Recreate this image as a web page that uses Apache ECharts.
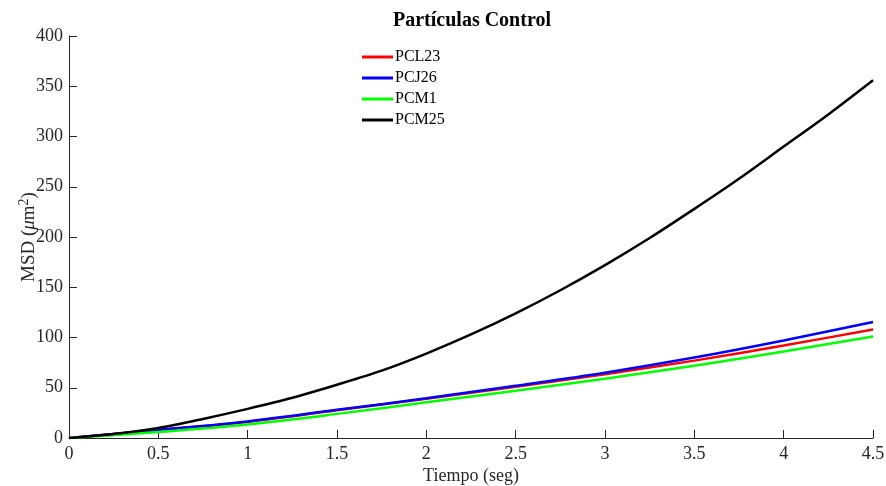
<!DOCTYPE html>
<html>
<head>
<meta charset="utf-8">
<script src="https://cdn.jsdelivr.net/npm/echarts@6/dist/echarts.min.js"></script>
<style>
  html, body { margin: 0; padding: 0; background: #fff; }
  #chart { width: 886px; height: 486px; }
</style>
</head>
<body>
<div id="chart"></div>
<script>
// tiempo (seg)
var tiempo = [0, 0.5, 1, 1.5, 2, 2.5, 3, 3.5, 4, 4.5];
var tiempoFino = [0, 0.25, 0.5, 0.75, 1, 1.25, 1.5, 1.75, 2, 2.25, 2.5, 2.75, 3, 3.25, 3.5, 3.75, 4, 4.25, 4.5];

// MSD (um^2)
var pcl23 = [0, 8, 16, 27.5, 39, 51, 63.5, 77, 92, 108];
var pcj26 = [0, 8, 16.5, 28, 39.5, 52, 65, 80, 97, 115.5];
var pcm1 = [0, 6, 13.5, 24, 35.5, 47, 59, 72, 86, 101];
var pcm25 = [0, 4, 10, 19, 29, 40, 53, 67, 84, 103, 124, 147, 172, 199, 228, 258, 290, 322, 356];

var xTicks = [0, 4.5, 0.5];
var yTicks = [0, 400, 50];

function pares(xs, ys) {
    return xs.map(function (x, i) { return [x, ys[i]]; });
}

var serif = '"Liberation Serif", "Times New Roman", serif';
var gris = '#262626';

function linea(nombre, color, xs, ys) {
    return {
        name: nombre,
        type: 'line',
        data: pares(xs, ys),
        smooth: 0.3,
        symbol: 'none',
        lineStyle: { color: color, width: 2.5 },
        itemStyle: { color: color },
        animation: false
    };
}

var chart = echarts.init(document.getElementById('chart'));
chart.setOption({
    backgroundColor: '#fff',
    title: {
        text: 'Partículas Control',
        left: 467,
        textAlign: 'center',
        top: 6,
        textStyle: { fontFamily: serif, fontSize: 20, fontWeight: 'bold', color: '#000' }
    },
    legend: {
        orient: 'vertical',
        left: 362,
        top: 49,
        padding: 0,
        itemWidth: 31,
        itemHeight: 3,
        itemGap: 5,
        icon: 'rect',
        textStyle: { fontFamily: serif, fontSize: 16, color: '#000', padding: [0, 0, 0, -3] },
        data: ['PCL23', 'PCJ26', 'PCM1', 'PCM25']
    },
    grid: { left: 69, right: 13, top: 36, bottom: 48, outerBoundsMode: 'none' },
    xAxis: {
        type: 'value',
        min: xTicks[0],
        max: xTicks[1],
        interval: xTicks[2],
        name: 'Tiempo (seg)',
        nameLocation: 'middle',
        nameGap: 29,
        nameMoveOverlap: false,
        nameTextStyle: { fontFamily: serif, fontSize: 18, color: gris },
        axisLine: { show: true, lineStyle: { color: gris, width: 1 } },
        axisTick: { show: true, inside: true, length: 8, lineStyle: { color: gris } },
        axisLabel: { fontFamily: serif, fontSize: 18, color: gris, margin: 7 },
        splitLine: { show: false }
    },
    yAxis: {
        type: 'value',
        min: yTicks[0],
        max: yTicks[1],
        interval: yTicks[2],
        name: '{a|MSD (}{i|μ}{a|m}{s|2}{a|)}',
        nameLocation: 'middle',
        nameGap: 28,
        nameMoveOverlap: false,
        nameTextStyle: {
            fontFamily: serif, fontSize: 19, color: gris,
            rich: {
                a: { fontFamily: serif, fontSize: 19, color: gris },
                i: { fontFamily: serif, fontSize: 19, color: gris, fontStyle: 'italic' },
                s: { fontFamily: serif, fontSize: 14, color: gris, verticalAlign: 'top', padding: [0, 0, 10, 0] }
            }
        },
        axisLine: { show: true, lineStyle: { color: gris, width: 1 } },
        axisTick: { show: true, inside: true, length: 8, lineStyle: { color: gris } },
        axisLabel: { fontFamily: serif, fontSize: 18, color: gris, margin: 6 },
        splitLine: { show: false }
    },
    series: [
        linea('PCL23', '#ff0000', tiempo, pcl23),
        linea('PCJ26', '#0000ff', tiempo, pcj26),
        linea('PCM1', '#00ff00', tiempo, pcm1),
        linea('PCM25', '#000000', tiempoFino, pcm25)
    ]
});
</script>
</body>
</html>
